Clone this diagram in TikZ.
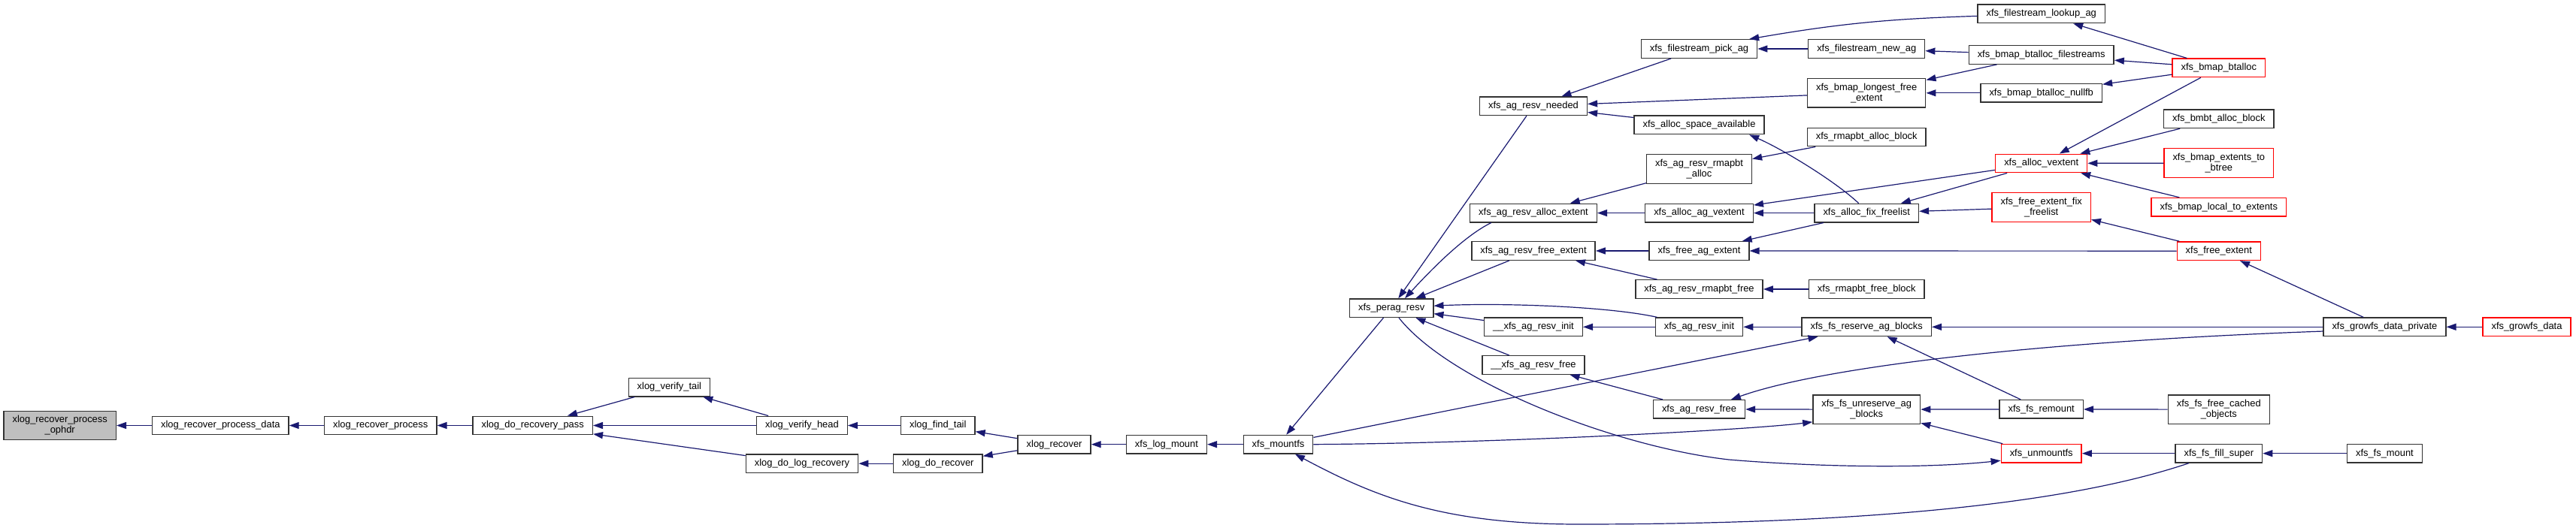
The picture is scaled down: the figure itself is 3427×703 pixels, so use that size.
\documentclass[tikz,border=0pt]{standalone}
\usepackage{fontspec}
\setmainfont{Liberation Sans}
\usetikzlibrary{arrows.meta}
\definecolor{navy}{HTML}{191970}
\definecolor{rootgrey}{HTML}{BFBFBF}

\begin{document}
\begin{tikzpicture}[
  x=1pt, y=-1pt,
  fn/.style={draw=black!80, line width=1.4pt, fill=white, align=center, inner xsep=11.5pt, inner ysep=1pt, minimum height=24.5pt, font=\fontsize{12.9}{14}\selectfont},
  fnTwo/.style={fn, minimum height=38.5pt},
  hot/.style={fn, draw=red},
  hotTwo/.style={fnTwo, draw=red},
  rootfn/.style={fnTwo, fill=rootgrey},
  back/.style={{Triangle[length=13pt, width=9pt]}-, draw=navy, line width=1.2pt}
]
  \useasboundingbox (0,0) rectangle (3427,703);

  % XLOG ==================================
  \node[rootfn] (ophdr) at (79.7,566.5) {xlog\_recover\_process\\\_ophdr};
  \node[fn] (procData) at (293.3,566.5) {xlog\_recover\_process\_data};
  \node[fn] (procMain) at (506.2,566.5) {xlog\_recover\_process};
  \node[fn] (recPass) at (708.7,566.5) {xlog\_do\_recovery\_pass};
  \node[fn] (verifyTail) at (890.4,515.6) {xlog\_verify\_tail};
  \node[fn] (verifyHead) at (1067,566.5) {xlog\_verify\_head};
  \node[fn] (doLogRec) at (1067,617.2) {xlog\_do\_log\_recovery};
  \node[fn] (findTail) at (1247.8,566.5) {xlog\_find\_tail};
  \node[fn] (doRecover) at (1247.8,617.2) {xlog\_do\_recover};
  \node[fn] (logRecover) at (1402.6,591.7) {xlog\_recover};
  \node[fn] (logMount) at (1551.9,591.7) {xfs\_log\_mount};
  \node[fn] (mountfs) at (1700.5,591.7) {xfs\_mountfs};
  \node[fn] (peragResv) at (1851.2,410.2) {xfs\_perag\_resv};

  % AG_RESV ===============================
  % Colonne 1
  \node[fn] (resvNeeded) at (2040,141.3) {xfs\_ag\_resv\_needed};
  \node[fn] (resvAllocExt) at (2040,283.6) {xfs\_ag\_resv\_alloc\_extent};
  \node[fn] (resvFreeExt) at (2040,334) {xfs\_ag\_resv\_free\_extent};
  \node[fn] (resvInitLow) at (2040,435.3) {\_\_xfs\_ag\_resv\_init};
  \node[fn] (resvFreeLow) at (2040,486) {\_\_xfs\_ag\_resv\_free};
  % Colonne 2
  \node[fn] (pickAg) at (2260.5,65) {xfs\_filestream\_pick\_ag};
  \node[fn] (spaceAvail) at (2260.5,166.4) {xfs\_alloc\_space\_available};
  \node[fnTwo] (rmapAlloc) at (2260.5,225) {xfs\_ag\_resv\_rmapbt\\\_alloc};
  \node[fn] (agVextent) at (2260.5,283.6) {xfs\_alloc\_ag\_vextent};
  \node[fn] (freeAgExt) at (2260.5,334) {xfs\_free\_ag\_extent};
  \node[fn] (rmapFree) at (2260.5,385) {xfs\_ag\_resv\_rmapbt\_free};
  \node[fn] (resvInit) at (2260.5,435.3) {xfs\_ag\_resv\_init};
  \node[fn] (resvFree) at (2260.5,544.9) {xfs\_ag\_resv\_free};
  % Colonne 3
  \node[fn] (newAg) at (2483.2,65) {xfs\_filestream\_new\_ag};
  \node[fnTwo] (longestFree) at (2483.2,123.8) {xfs\_bmap\_longest\_free\\\_extent};
  \node[fn] (rmapAllocBlk) at (2483.2,182.5) {xfs\_rmapbt\_alloc\_block};
  \node[fn] (fixFreelist) at (2483.2,283.6) {xfs\_alloc\_fix\_freelist};
  \node[fn] (rmapFreeBlk) at (2483.2,385) {xfs\_rmapbt\_free\_block};
  \node[fn] (reserveBlks) at (2483.2,435.3) {xfs\_fs\_reserve\_ag\_blocks};
  \node[fnTwo] (unreserveBlks) at (2483.2,545.2) {xfs\_fs\_unreserve\_ag\\\_blocks};
  % Colonne 4
  \node[fn] (lookupAg) at (2715.7,18.4) {xfs\_filestream\_lookup\_ag};
  \node[fn] (btallocFs) at (2715.7,73) {xfs\_bmap\_btalloc\_filestreams};
  \node[fn] (btallocNull) at (2715.7,123.8) {xfs\_bmap\_btalloc\_nullfb};
  \node[hot] (allocVextent) at (2715.7,217.5) {xfs\_alloc\_vextent};
  \node[hotTwo] (freeExtFix) at (2715.7,276) {xfs\_free\_extent\_fix\\\_freelist};
  \node[fn] (fsRemount) at (2715.7,544.9) {xfs\_fs\_remount};
  \node[hot] (unmountfs) at (2715.7,603.7) {xfs\_unmountfs};
  % Colonne 5
  \node[hot] (btalloc) at (2951.8,90.4) {xfs\_bmap\_btalloc};
  \node[fn] (bmbtAlloc) at (2951.8,158.3) {xfs\_bmbt\_alloc\_block};
  \node[hotTwo] (extToBtree) at (2951.8,217) {xfs\_bmap\_extents\_to\\\_btree};
  \node[hot] (localToExt) at (2951.8,275.8) {xfs\_bmap\_local\_to\_extents};
  \node[hot] (freeExtent) at (2951.8,334.2) {xfs\_free\_extent};
  \node[fnTwo] (freeCached) at (2951.8,545.2) {xfs\_fs\_free\_cached\\\_objects};
  \node[fn] (fillSuper) at (2951.8,603.7) {xfs\_fs\_fill\_super};
  % Colonnes 6 et 7
  \node[fn] (growPrivate) at (3172.4,435.3) {xfs\_growfs\_data\_private};
  \node[fn] (fsMount) at (3172.4,603.7) {xfs\_fs\_mount};
  \node[hot] (growData) at (3361.5,435.3) {xfs\_growfs\_data};

  % Fleches xlog
  \draw[back] (ophdr) -- (procData);
  \draw[back] (procData) -- (procMain);
  \draw[back] (procMain) -- (recPass);
  \draw[back] (recPass) -- (verifyTail);
  \draw[back] (recPass) -- (verifyHead);
  \draw[back] (recPass) -- (doLogRec);
  \draw[back] (verifyTail) -- (verifyHead);
  \draw[back] (verifyHead) -- (findTail);
  \draw[back] (doLogRec) -- (doRecover);
  \draw[back] (findTail) -- (logRecover);
  \draw[back] (doRecover) -- (logRecover);
  \draw[back] (logRecover) -- (logMount);
  \draw[back] (logMount) -- (mountfs);

  % Fleches mountfs
  \draw[back] (mountfs) -- (peragResv);
  \draw[back] (reserveBlks) -- (mountfs);
  \draw[back] (unreserveBlks.193) .. controls (2330,572) and (2000,590) .. (mountfs.east);
  \draw[back] (mountfs.-30) .. controls (1830,662) and (1920,698) .. (2100,698) .. controls (2500,698) and (2760,668) .. (fillSuper.-162);

  % Fleches perag
  \draw[back] (peragResv) -- (resvNeeded);
  \draw[back] (peragResv.36) .. controls (1903,360) and (1948,314) .. (resvAllocExt.-167);
  \draw[back] (peragResv) -- (resvFreeExt);
  \draw[back] (peragResv.3) .. controls (2000,403) and (2140,408) .. (resvInit.167);
  \draw[back] (peragResv) -- (resvInitLow);
  \draw[back] (peragResv) -- (resvFreeLow);
  \draw[back] (unmountfs.190) .. controls (2560,624) and (2420,622) .. (2300,612) .. controls (2150,595) and (1930,510) .. (peragResv.-53);

  % Colonne 1
  \draw[back] (resvNeeded) -- (pickAg);
  \draw[back] (resvNeeded) -- (longestFree);
  \draw[back] (resvNeeded) -- (spaceAvail);
  \draw[back] (resvAllocExt) -- (rmapAlloc);
  \draw[back] (resvAllocExt) -- (agVextent);
  \draw[back] (resvFreeExt) -- (freeAgExt);
  \draw[back] (resvFreeExt) -- (rmapFree);
  \draw[back] (resvInitLow) -- (resvInit);
  \draw[back] (resvFreeLow) -- (resvFree);

  % Colonne 2
  \draw[back] (pickAg.11) to[bend left=4] (lookupAg.182);
  \draw[back] (pickAg) -- (newAg);
  \draw[back] (spaceAvail.-11.5) .. controls (2370,198) and (2440,240) .. (fixFreelist.129);
  \draw[back] (rmapAlloc) -- (rmapAllocBlk);
  \draw[back] (agVextent) -- (allocVextent);
  \draw[back] (agVextent) -- (fixFreelist);
  \draw[back] (freeAgExt) -- (fixFreelist);
  \draw[back] (freeAgExt) -- (freeExtent);
  \draw[back] (rmapFree) -- (rmapFreeBlk);
  \draw[back] (resvInit) -- (reserveBlks);
  \draw[back] (resvFree.17) .. controls (2420,490) and (2700,455) .. (growPrivate.184);
  \draw[back] (resvFree) -- (unreserveBlks);

  % Colonne 3
  \draw[back] (newAg) -- (btallocFs);
  \draw[back] (longestFree) -- (btallocFs);
  \draw[back] (longestFree) -- (btallocNull);
  \draw[back] (fixFreelist) -- (allocVextent);
  \draw[back] (fixFreelist) -- (freeExtFix);
  \draw[back] (reserveBlks) -- (growPrivate);
  \draw[back] (reserveBlks) -- (fsRemount);
  \draw[back] (unreserveBlks) -- (fsRemount);
  \draw[back] (unreserveBlks) -- (unmountfs);

  % Colonne 4
  \draw[back] (lookupAg) -- (btalloc);
  \draw[back] (btallocFs) -- (btalloc);
  \draw[back] (btallocNull) -- (btalloc);
  \draw[back] (allocVextent) -- (btalloc);
  \draw[back] (allocVextent) -- (bmbtAlloc);
  \draw[back] (allocVextent) -- (extToBtree);
  \draw[back] (allocVextent) -- (localToExt);
  \draw[back] (freeExtFix) -- (freeExtent);
  \draw[back] (fsRemount) -- (freeCached);
  \draw[back] (unmountfs) -- (fillSuper);

  % Colonne 5
  \draw[back] (freeExtent) -- (growPrivate);
  \draw[back] (fillSuper) -- (fsMount);
  \draw[back] (growPrivate) -- (growData);
\end{tikzpicture}
\end{document}
